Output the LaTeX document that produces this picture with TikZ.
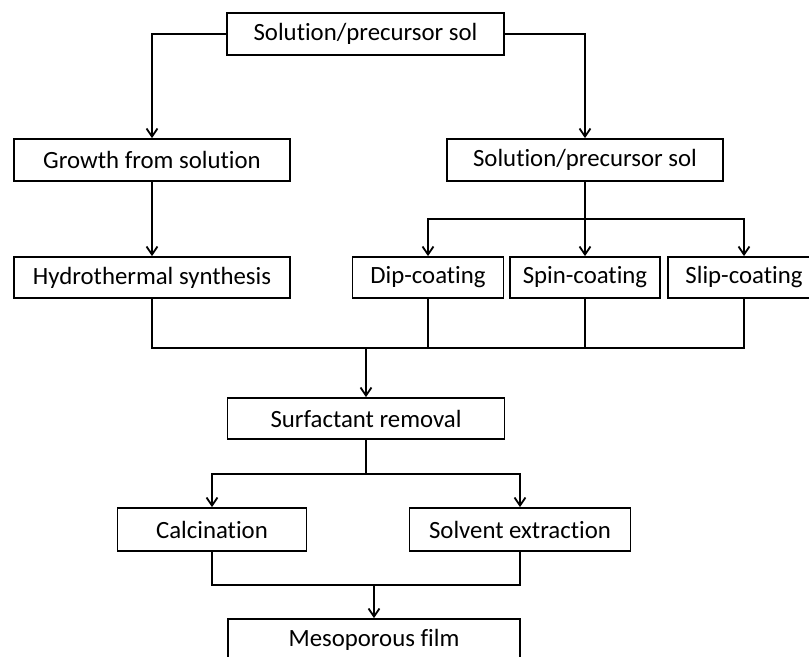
\documentclass[tikz,border=0pt]{standalone}
\usepackage{fontspec}
\setmainfont{Carlito}[Ligatures=NoCommon]
\usetikzlibrary{arrows.meta}

\tikzset{
  stepbox/.style={draw=black, line width=0.9pt, inner sep=0pt, align=center,
    font=\fontsize{12.4}{14}\selectfont},
  flowarrow/.style={line width=0.9pt, -{Straight Barb[length=4pt,width=5.5pt,line width=0.9pt]}},
  flowline/.style={line width=0.9pt}
}

\begin{document}
\begin{tikzpicture}[x=0.5pt, y=-0.5pt]
          \useasboundingbox (0,0) rectangle (809,657); % fixes the page

          \node [stepbox, minimum width=138.5pt, minimum height=21pt] (topsol) at (365.5,34) {Solution/precursor sol}; % Draws a box

          \node [stepbox, minimum width=138pt, minimum height=21pt] (growth) at (152,160) {Growth from solution}; % Draws a box
          \node [stepbox, minimum width=138pt, minimum height=21pt] (sol) at (585,160) {Solution/precursor sol}; % Draws a box

          \node [stepbox, minimum width=138pt, minimum height=20.5pt] (hydro) at (152,277.5) {Hydrothermal synthesis}; % Draws a box
          \node [stepbox, minimum width=75.5pt, minimum height=20.5pt] (dip) at (428,277.5) {Dip-coating}; % Draws a box
          \node [stepbox, minimum width=75pt, minimum height=20.5pt] (spin) at (585,277.5) {Spin-coating}; % Draws a box
          \node [stepbox, minimum width=76pt, minimum height=20.5pt] (slip) at (744,277.5) {Slip-coating}; % Draws a box

          \node [stepbox, minimum width=138.5pt, minimum height=20.5pt] (surf) at (366,418.5) {Surfactant removal}; % Draws a box

          \node [stepbox, minimum width=94.5pt, minimum height=21.5pt] (calc) at (212,529.5) {Calcination}; % Draws a box
          \node [stepbox, minimum width=110.5pt, minimum height=21.5pt] (solv) at (520,529.5) {Solvent extraction}; % Draws a box

          \node [stepbox, minimum width=146pt, minimum height=21pt] (meso) at (374,640) {Mesoporous film}; % Draws a box

          \coordinate (split) at (585,219);
          \coordinate (merge) at (366,348);
          \coordinate (fork) at (366,474);
          \coordinate (join) at (374,585);

          \draw [flowarrow] (topsol.west) -| (growth.north);
          \draw [flowarrow] (topsol.east) -| (sol.north);

          \draw [flowarrow] (growth.south) -- (hydro.north);

          \draw [flowline] (sol.south) -- (split);
          \draw [flowarrow] (split) -| (dip.north);
          \draw [flowarrow] (split) -- (spin.north);
          \draw [flowarrow] (split) -| (slip.north);

          \draw [flowline] (hydro.south) |- (merge);
          \draw [flowline] (slip.south) |- (merge);
          \draw [flowline] (dip.south) -- (dip.south |- merge);
          \draw [flowline] (spin.south) -- (spin.south |- merge);
          \draw [flowarrow] (merge) -- (surf.north);

          \draw [flowline] (surf.south) -- (fork);
          \draw [flowarrow] (fork) -| (calc.north);
          \draw [flowarrow] (fork) -| (solv.north);

          \draw [flowline] (calc.south) |- (join);
          \draw [flowline] (solv.south) |- (join);
          \draw [flowarrow] (join) -- (meso.north);
        \end{tikzpicture}
\end{document}
